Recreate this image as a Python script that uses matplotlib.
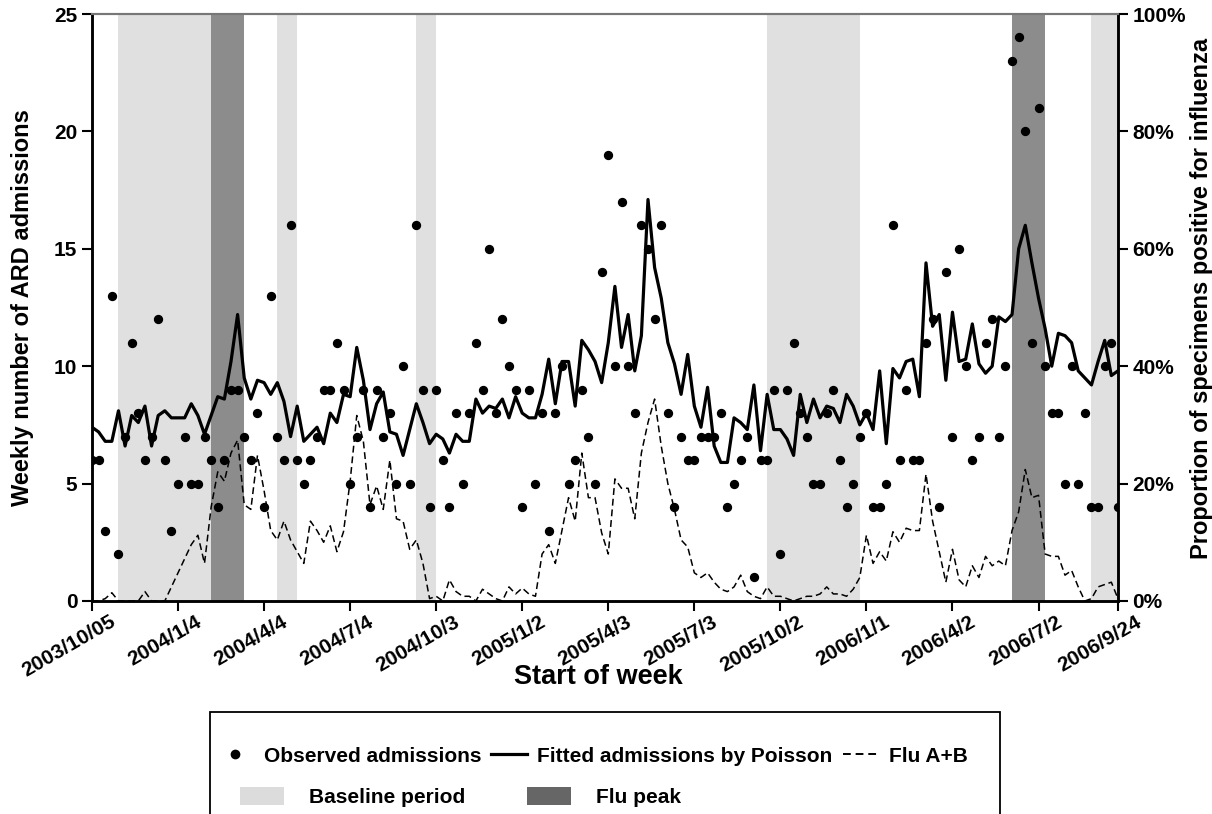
import numpy as np
import pandas as pd
import matplotlib
matplotlib.use("Agg")
import matplotlib.pyplot as plt
from matplotlib.lines import Line2D
from matplotlib.patches import Patch, Rectangle
from matplotlib.transforms import ScaledTranslation

plt.rcParams['font.family'] = ['Liberation Sans', 'DejaVu Sans']
plt.rcParams['font.weight'] = 'bold'

# weekly series, first week starts 2003/10/05
start_week = "2003-10-05"
observed = [6, 6, 3, 13, 2, 7, 11, 8, 6, 7, 12, 6, 3, 5, 7, 5, 5, 7, 6, 4,
            6, 9, 9, 7, 6, 8, 4, 13, 7, 6, 16, 6, 5, 6, 7, 9, 9, 11, 9, 5,
            7, 9, 4, 9, 7, 8, 5, 10, 5, 16, 9, 4, 9, 6, 4, 8, 5, 8, 11, 9,
            15, 8, 12, 10, 9, 4, 9, 5, 8, 3, 8, 10, 5, 6, 9, 7, 5, 14, 19, 10,
            17, 10, 8, 16, 15, 12, 16, 8, 4, 7, 6, 6, 7, 7, 7, 8, 4, 5, 6, 7,
            1, 6, 6, 9, 2, 9, 11, 8, 7, 5, 5, 8, 9, 6, 4, 5, 7, 8, 4, 4,
            5, 16, 6, 9, 6, 6, 11, 12, 4, 14, 7, 15, 10, 6, 7, 11, 12, 7, 10, 23,
            24, 20, 11, 21, 10, 8, 8, 5, 10, 5, 8, 4, 4, 10, 11, 4]
fitted = [7.4, 7.2, 6.8, 6.8, 8.1, 6.6, 7.9, 7.6, 8.3, 6.6, 7.9, 8.1, 7.8, 7.8, 7.8, 8.4, 7.9, 7.1, 7.9, 8.7,
          8.6, 10.2, 12.2, 9.5, 8.6, 9.4, 9.3, 8.8, 9.3, 8.5, 7.0, 8.3, 6.8, 7.1, 7.4, 6.7, 8.0, 7.6, 8.8, 8.7,
          10.8, 9.4, 7.3, 8.4, 8.9, 7.2, 7.1, 6.2, 7.3, 8.4, 7.6, 6.7, 7.1, 6.9, 6.3, 7.1, 6.8, 6.8, 8.6, 8.0,
          8.3, 8.2, 8.6, 7.8, 8.7, 8.0, 7.8, 7.8, 8.8, 10.3, 8.4, 10.2, 10.2, 8.3, 11.1, 10.7, 10.2, 9.3, 11.0, 13.4,
          10.8, 12.2, 9.8, 11.3, 17.1, 14.2, 12.9, 11.0, 10.1, 8.8, 10.5, 8.3, 7.4, 9.1, 6.6, 5.9, 5.9, 7.8, 7.6, 7.3,
          9.2, 6.4, 8.8, 7.3, 7.3, 6.9, 6.2, 8.8, 7.6, 8.6, 7.8, 8.3, 8.2, 7.6, 8.8, 8.3, 7.5, 8.0, 7.3, 9.8,
          6.7, 9.9, 9.5, 10.2, 10.3, 8.7, 14.4, 11.7, 12.2, 9.4, 12.3, 10.2, 10.3, 11.8, 10.1, 9.7, 10.0, 12.1, 11.9, 12.2,
          15.0, 16.0, 14.4, 12.9, 11.6, 10.0, 11.4, 11.3, 11.0, 9.8, 9.5, 9.2, 10.2, 11.1, 9.6, 9.8]
flu_pct = [0, 0, 0.4, 1.4, 0, 0, 0, 0, 1.6, 0, 0, 0, 2.4, 4.8, 7.2, 9.6, 11.2, 6.4, 16, 22,
           20.4, 25.2, 27.4, 16.4, 15.6, 24.8, 18.8, 12, 10.4, 13.6, 10.4, 8.4, 6.4, 13.6, 12, 10, 12.8, 8.4, 11.8, 20.4,
           31.6, 27.2, 16.4, 19.6, 15.6, 24, 14, 13.6, 8.8, 10.4, 6.4, 0.4, 0.8, 0, 3.6, 1.6, 0.8, 0.8, 0, 2,
           1.2, 0.4, 0, 2.4, 1.2, 2.2, 1.2, 0.8, 8, 9.6, 6.4, 12, 17.6, 13.6, 25.2, 17.6, 17.6, 11.6, 8, 20.8,
           19.2, 19.2, 14, 25.2, 30.4, 34.4, 26.4, 20, 15.6, 10.4, 9.2, 4.8, 4, 4.8, 3.2, 2, 1.6, 2.4, 4.4, 1.6,
           0.8, 0.4, 2.4, 0.8, 0.8, 0.4, 0, 0.4, 0.8, 0.8, 1.2, 2.4, 1.2, 1.2, 0.8, 2, 4, 11.2, 6.4, 8.4,
           6.8, 11.8, 10, 12.4, 12, 12, 21.6, 13.6, 8.4, 3.2, 8.8, 3.6, 2.4, 6, 4, 7.6, 6, 6.8, 6, 12,
           15.2, 22.4, 17.6, 18, 8, 7.6, 7.6, 4.4, 5.2, 2.4, 0, 0.4, 2.4, 2.8, 3.2, 0.4]

baseline_periods = [("2003-11-02", "2004-02-08"), ("2004-04-18", "2004-05-09"),
                    ("2004-09-12", "2004-10-03"), ("2005-09-18", "2005-12-25"),
                    ("2006-08-27", "2006-09-24")]
flu_peaks = [("2004-02-08", "2004-03-14"), ("2006-06-04", "2006-07-09")]

tick_labels = ["2003/10/05", "2004/1/4", "2004/4/4", "2004/7/4", "2004/10/3", "2005/1/2",
               "2005/4/3", "2005/7/3", "2005/10/2", "2006/1/1", "2006/4/2", "2006/7/2", "2006/9/24"]

weeks = pd.date_range(start_week, periods=len(observed), freq="7D")
tick_dates = pd.to_datetime(tick_labels, format="%Y/%m/%d")

light = "#e0e0e0"
dark = "#8c8c8c"

fig = plt.figure(figsize=(12.12, 8.14), dpi=100)
ax = fig.add_axes([0.0759, 0.2617, 0.8465, 0.7211])

for a, b in baseline_periods:
    ax.axvspan(pd.Timestamp(a), pd.Timestamp(b), color=light, lw=0, zorder=0)
for a, b in flu_peaks:
    ax.axvspan(pd.Timestamp(a), pd.Timestamp(b), color=dark, lw=0, zorder=0)

ax.plot(weeks, fitted, color="black", lw=2.3, zorder=3)
ax.plot(weeks, observed, "o", color="black", ms=5.7, zorder=4)

ax.set_xlim(weeks[0], weeks[-1])
ax.set_ylim(0, 25)
ax.set_yticks([0, 5, 10, 15, 20, 25])
ax.set_xticks(tick_dates)
ax.set_xticklabels(tick_labels, rotation=30, ha="right", va="top", rotation_mode="anchor")
ax.tick_params(axis="both", direction="out", length=7, width=1.5, labelsize=15)
ax.tick_params(axis="x", pad=1)
shift = ScaledTranslation(0.17, 0, fig.dpi_scale_trans)
for lab in ax.get_xticklabels():
    lab.set_transform(lab.get_transform() + shift)

ax.set_ylabel("Weekly number of ARD admissions", fontsize=17, fontweight="bold")
ax.yaxis.set_label_coords(-0.068, 0.5)
ax.yaxis.label.set_va("center")
ax.set_xlabel("Start of week", fontsize=19.5, fontweight="bold")
ax.xaxis.set_label_coords(0.494, -0.13)
ax.xaxis.label.set_va("center")

ax2 = ax.twinx()
ax2.plot(weeks, flu_pct, color="black", lw=1.1, dashes=(4.5, 2.5), zorder=3)
ax2.set_ylim(0, 100)
ax2.set_yticks([0, 20, 40, 60, 80, 100])
ax2.set_yticklabels(["0%", "20%", "40%", "60%", "80%", "100%"])
ax2.tick_params(axis="y", direction="out", length=7, width=1.5, labelsize=15)
ax2.set_ylabel("Proportion of specimens positive for influenza", fontsize=17, fontweight="bold")
ax2.yaxis.set_label_coords(1.081, 0.515)
ax2.yaxis.label.set_va("center")

for a in (ax, ax2):
    for s in ("left", "right", "bottom"):
        a.spines[s].set_linewidth(1.8)
    a.spines["top"].set_color("#777777")
    a.spines["top"].set_linewidth(1.5)

# legend box
fig.patches.append(Rectangle((210 / 1212, -0.05), 790 / 1212, 0.05 + 102 / 814,
                             transform=fig.transFigure, fill=False, ec="black", lw=1.3))

row1 = [Line2D([], [], ls="none", marker="o", color="black", ms=6),
        Line2D([], [], color="black", lw=2.3),
        Line2D([], [], color="black", lw=1.4, dashes=(4, 2.5))]
fig.legend(row1, ["Observed admissions", "Fitted admissions by Poisson", "Flu A+B"],
           loc="center", bbox_to_anchor=(0.489, 0.071), ncol=3, frameon=False,
           prop={"size": 15, "weight": "bold"}, handlelength=1.7, handletextpad=0.5,
           columnspacing=0.5, borderpad=0)
row2 = [Patch(facecolor="#dcdcdc", edgecolor="none"), Patch(facecolor="#666666", edgecolor="none")]
fig.legend(row2, ["Baseline period", "Flu peak"],
           loc="center", bbox_to_anchor=(0.38, 0.021), ncol=2, frameon=False,
           prop={"size": 15, "weight": "bold"}, handlelength=2.1, handleheight=1.0,
           handletextpad=1.2, columnspacing=3.0, borderpad=0)

fig.savefig("out.png", dpi=100)
